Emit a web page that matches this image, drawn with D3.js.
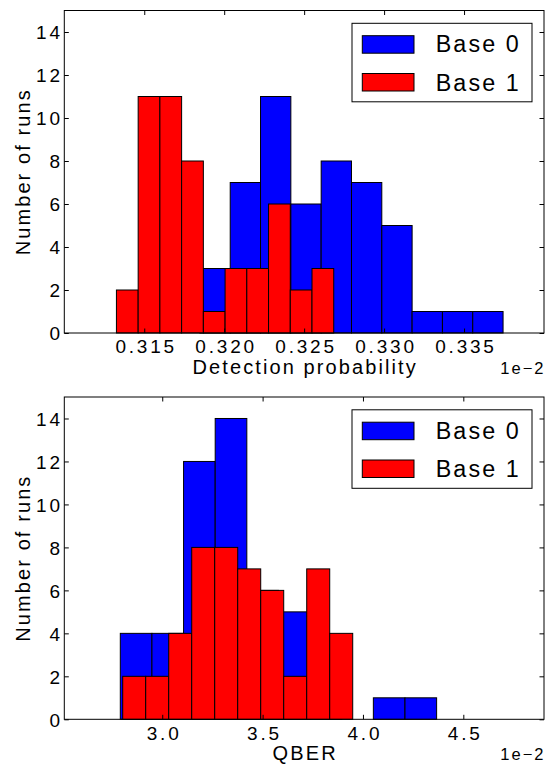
<!DOCTYPE html>
<html>
<head>
<meta charset="utf-8">
<script src="https://cdn.jsdelivr.net/npm/d3@7"></script>
<style>
   body { margin: 0; background: #fff; }
   text { font-family: "Liberation Sans", Arial, sans-serif; fill: #000; }
</style>
</head>
<body>
<div id="insert-chart"></div>
<script>
// Series names shown in the legend
const seriesNames = ["Base 0", "Base 1"];
// Count axis ticks (shared by both panels)
const yTicks = [0, 2, 4, 6, 8, 10, 12, 14];

// Top panel: detection probability (x 1e-2)
const detTicks = [0.315, 0.320, 0.325, 0.330, 0.335];
const detBase0Range = [0.31848, 0.33744];
const detBase0Counts = [3, 7, 11, 6, 8, 7, 5, 1, 1, 1];
const detBase1Range = [0.31326, 0.32685];
const detBase1Counts = [2, 11, 11, 8, 1, 3, 3, 6, 2, 3];

// Bottom panel: QBER (x 1e-2)
const qberTicks = [3.0, 3.5, 4.0, 4.5];
const qberBase0Range = [2.791, 4.367];
const qberBase0Counts = [4, 4, 12, 14, 6, 5, 3, 0, 1, 1];
const qberBase1Range = [2.803, 3.949];
const qberBase1Counts = [2, 2, 4, 8, 8, 7, 6, 2, 7, 4];

const svgWidth = 553;
const svgHeight = 764;
const colors = ["#0000ff", "#ff0000"];
const tickLen = 4.5;

const svg = d3.select("#insert-chart")
               .append("svg")
               .attr("width", svgWidth)
               .attr("height", svgHeight);

// Turn [min,max] + counts into bins of equal width
const makeBins = (range, counts) => {
   const w = (range[1] - range[0]) / counts.length;
   return counts.map((c, i) => ({ x0: range[0] + i * w, x1: range[0] + (i + 1) * w, n: c }));
};

// Draw one histogram panel
const plotPanel = (opt) => {
   const left = 64.3, right = 544;
   const top = opt.top, bottom = opt.bottom;

   const x = d3.scaleLinear().domain(opt.xDomain).range([left, right]);
   const y = d3.scaleLinear().domain([0, 15]).range([bottom, top]);

   const g = svg.append("g");

   // **Bars, Base 0 first so Base 1 sits on top
   opt.series.forEach((s, k) => {
      g.append("g")
         .selectAll("rect")
         .data(makeBins(s.range, s.counts).filter((d) => d.n > 0))
         .enter()
         .append("rect")
         .attr("x", (d) => x(d.x0))
         .attr("width", (d) => x(d.x1) - x(d.x0))
         .attr("y", (d) => y(d.n))
         .attr("height", (d) => y(0) - y(d.n))
         .attr("fill", colors[k])
         .attr("stroke", "#000")
         .attr("stroke-width", 1);
   });

   // **Axes, ticks point inwards on every side
   const xAxis = d3.axisBottom(x).tickValues(opt.xTicks).tickSize(-tickLen).tickPadding(6)
                     .tickFormat(opt.xFormat);
   const xAxisTop = d3.axisTop(x).tickValues(opt.xTicks).tickSize(-tickLen).tickFormat("");
   const yAxis = d3.axisLeft(y).tickValues(yTicks).tickSize(-tickLen).tickPadding(4)
                     .tickFormat(d3.format("d"));
   const yAxisRight = d3.axisRight(y).tickValues(yTicks).tickSize(-tickLen).tickFormat("");

   const styleAxis = (sel) => {
      sel.select(".domain").remove();
      sel.selectAll("line").attr("stroke", "#000").attr("stroke-width", 1);
      sel.selectAll("text")
         .attr("font-size", 19)
         .attr("letter-spacing", 2.8)
         .attr("fill", "#000");
   };

   g.append("g").attr("transform", `translate(0, ${bottom})`).call(xAxis).call(styleAxis)
      .selectAll("text").attr("dy", null).attr("y", 20.3).attr("dx", 1.4);
   g.append("g").attr("transform", `translate(0, ${top})`).call(xAxisTop).call(styleAxis);
   g.append("g").attr("transform", `translate(${left}, 0)`).call(yAxis).call(styleAxis)
      .selectAll("text").attr("dy", "0.36em").attr("x", -1.5);
   g.append("g").attr("transform", `translate(${right}, 0)`).call(yAxisRight).call(styleAxis);

   // **Frame
   g.append("rect")
      .attr("x", left).attr("y", top)
      .attr("width", right - left).attr("height", bottom - top)
      .attr("fill", "none").attr("stroke", "#000").attr("stroke-width", 1);

   // **Labels
   g.append("text")
      .attr("x", (left + right) / 2 + 1)
      .attr("y", bottom + 41)
      .attr("text-anchor", "middle")
      .attr("font-size", 20)
      .attr("letter-spacing", 2.1)
      .text(opt.xLabel);
   g.append("text")
      .attr("transform", `translate(30, ${(top + bottom) / 2}) rotate(-90)`)
      .attr("text-anchor", "middle")
      .attr("font-size", 20)
      .attr("letter-spacing", 2.1)
      .text("Number of runs");
   g.append("text")
      .attr("x", right + 1.5)
      .attr("y", bottom + 40.5)
      .attr("text-anchor", "end")
      .attr("font-size", 16.5)
      .attr("letter-spacing", 2)
      .text("1e\u22122");

   // **Legend
   const lx = 352, ly = top + 12.8, lw = 180, lh = 78.5;
   const leg = g.append("g");
   leg.append("rect")
      .attr("x", lx).attr("y", ly).attr("width", lw).attr("height", lh)
      .attr("fill", "#fff").attr("stroke", "#000").attr("stroke-width", 1);
   seriesNames.forEach((name, k) => {
      leg.append("rect")
         .attr("x", lx + 10.3).attr("y", ly + 12.4 + k * 37.8)
         .attr("width", 51.7).attr("height", 17.5)
         .attr("fill", colors[k]).attr("stroke", "#000").attr("stroke-width", 1);
      leg.append("text")
         .attr("x", lx + 83.7).attr("y", ly + 29 + k * 38.5)
         .attr("font-size", 23.3)
         .attr("letter-spacing", 2.1)
         .text(name);
   });
};

plotPanel({
   top: 10.5, bottom: 333,
   xDomain: [0.310, 0.340],
   xTicks: detTicks,
   xFormat: d3.format(".3f"),
   xLabel: "Detection probability",
   series: [
      { range: detBase0Range, counts: detBase0Counts },
      { range: detBase1Range, counts: detBase1Counts }
   ]
});

plotPanel({
   top: 397, bottom: 719.3,
   xDomain: [2.512, 4.902],
   xTicks: qberTicks,
   xFormat: d3.format(".1f"),
   xLabel: "QBER",
   series: [
      { range: qberBase0Range, counts: qberBase0Counts },
      { range: qberBase1Range, counts: qberBase1Counts }
   ]
});
</script>
</body>
</html>
